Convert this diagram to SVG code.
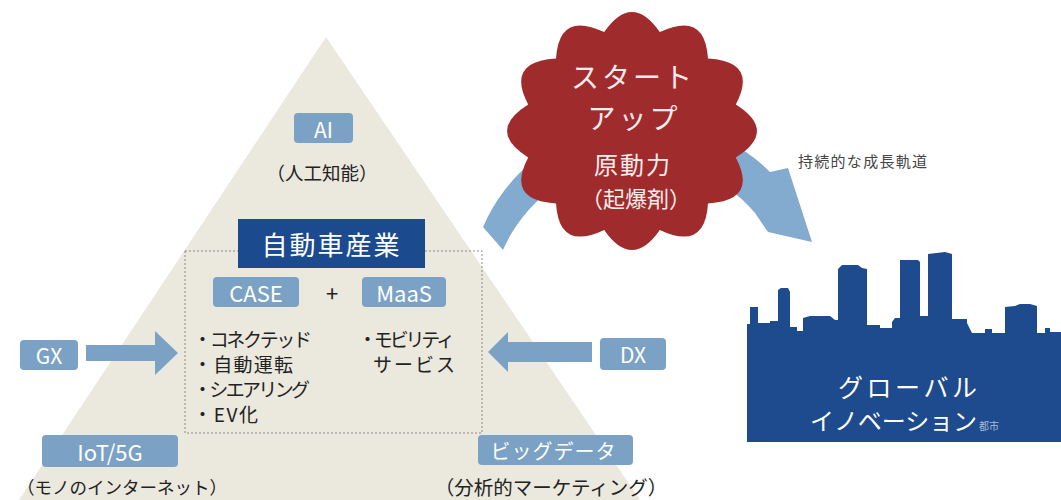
<svg xmlns="http://www.w3.org/2000/svg" width="1061" height="500" viewBox="0 0 1061 500">
  <style>
    text { font-family: "Noto Sans CJK JP", "Noto Sans", sans-serif; dominant-baseline: central; }
    .tag { fill: #7ba2c4; }
    .tagtxt { fill: #ffffff; text-anchor: middle; }
    .dark { fill: #222222; }
    .mid { text-anchor: middle; }
    .flow { fill: #7ba2c4; }
    .burst-txt { fill: #f7ecec; text-anchor: middle; }
  </style>

  <rect width="1061" height="500" fill="#ffffff"/>

  <!-- pyramid background -->
  <g id="pyramid">
    <polygon points="326,37 640,500 19,500" fill="#ebe8de"/>
    <rect x="185" y="251" width="297" height="182" fill="none" stroke="#8a8a8a" stroke-width="1" stroke-dasharray="2 2"/>
  </g>

  <!-- connectors -->
  <g id="connectors">
    <polygon id="arrow-gx" class="flow" points="86,345 155,345 155,331 178,353 155,375 155,361 86,361"/>
    <polygon id="arrow-dx" class="flow" points="592,342 508,342 508,332 488,352 508,372 508,362 592,362"/>
    <path id="arrow-growth" fill="#82abcf"
          d="M483,227 A177,177 0 0 1 770,172 L788,168 L812,242 L768,232 L755,213 A150,150 0 0 0 503,250 Z"/>
  </g>

  <g id="node-ai">
    <rect class="tag" x="294" y="113" width="59" height="30" rx="4"/>
    <text class="tagtxt" x="323.5" y="128.5" font-size="21">AI</text>
    <text class="dark mid" x="322" y="172" font-size="18.5">（人工知能）</text>
  </g>

  <g id="node-auto">
    <rect x="238" y="219" width="187" height="49" fill="#1b4b8e"/>
    <text class="tagtxt" x="331.5" y="243.5" font-size="26" letter-spacing="2">自動車産業</text>
  </g>

  <g id="node-case">
    <rect class="tag" x="213" y="277" width="86" height="30" rx="4"/>
    <text class="tagtxt" x="256" y="292" font-size="22">CASE</text>
    <text class="dark" x="193" y="338" font-size="19" textLength="119">・コネクテッド</text>
    <text class="dark" x="193" y="363" font-size="19" textLength="100">・自動運転</text>
    <text class="dark" x="193" y="388" font-size="19" textLength="117">・シエアリング</text>
    <text class="dark" x="193" y="413" font-size="19" textLength="65">・EV化</text>
  </g>

  <g id="node-plus">
    <text class="dark mid" x="332" y="292" font-size="22">+</text>
  </g>

  <g id="node-maas">
    <rect class="tag" x="362" y="277" width="84" height="30" rx="4"/>
    <text class="tagtxt" x="404" y="292" font-size="22">MaaS</text>
    <text class="dark" x="358" y="338" font-size="19" textLength="97">・モビリティ</text>
    <text class="dark" x="373" y="363" font-size="19" textLength="82">サービス</text>
  </g>

  <g id="node-gx">
    <rect class="tag" x="20" y="340" width="58" height="30" rx="4"/>
    <text class="tagtxt" x="49" y="355" font-size="21">GX</text>
  </g>

  <g id="node-dx">
    <rect class="tag" x="600" y="338" width="66" height="32" rx="4"/>
    <text class="tagtxt" x="633" y="354" font-size="21">DX</text>
  </g>

  <g id="node-iot">
    <rect class="tag" x="42" y="435" width="136" height="32" rx="4"/>
    <text class="tagtxt" x="110" y="451" font-size="22">IoT/5G</text>
    <text class="dark mid" x="122" y="486" font-size="17.5">（モノのインターネット）</text>
  </g>

  <g id="node-bigdata">
    <rect class="tag" x="478" y="435" width="155" height="30" rx="4"/>
    <text class="tagtxt" x="553" y="450" font-size="20" textLength="125">ビッグデータ</text>
    <text class="dark mid" x="551" y="486" font-size="19.5">（分析的マーケティング）</text>
  </g>

  <!-- starburst badge -->
  <g id="node-startup">
    <path fill="#a02b2c"
          d="M735.8,104.5 Q778.1,131 735.8,157.5 Q758.5,200.6 708,203.4 Q705.1,251.5 659.8,229.9 Q632,270.1 604.2,229.9 Q558.9,251.5 556,203.4 Q505.5,200.6 528.2,157.5 Q485.9,131 528.2,104.5 Q505.5,61.4 556,58.6 Q558.9,10.5 604.2,32.1 Q632,-8.1 659.8,32.1 Q705.1,10.5 708,58.6 Q758.5,61.4 735.8,104.5 Z"/>
    <text class="burst-txt" x="633" y="76" font-size="28" letter-spacing="3">スタート</text>
    <text class="burst-txt" x="634" y="117" font-size="28" letter-spacing="3">アップ</text>
    <text class="burst-txt" x="633" y="163" font-size="24" letter-spacing="2">原動力</text>
    <text class="burst-txt" x="636" y="197" font-size="22">（起爆剤）</text>
  </g>

  <g id="label-growth">
    <text x="798" y="160" font-size="15" fill="#444444" textLength="129">持続的な成長軌道</text>
  </g>

  <!-- city skyline -->
  <g id="node-city">
    <polygon fill="#1d4b8d" points="747,442 747,324 750,324 750,307 758,307 758,323 770,323 770,321 778,321 778,290 781,288 788,288 790,292 790,327 797,327 797,331 803,331 803,318 810,316 830,316 835,320 838,320 838,269 842,265 858,265 862,268 867,269 867,325 880,325 880,328 892,328 892,322 895,318 900,318 900,260 918,260 920,262 920,316 928,316 928,254 945,252 952,254 952,319 967,319 967,323 972,333 985,333 985,329 992,329 992,333 1005,333 1005,307 1015,306 1020,304 1030,304 1037,306 1037,333 1045,333 1045,328 1050,328 1050,332 1061,332 1061,442"/>
    <text x="838" y="386" font-size="25" fill="#ffffff" textLength="139">グローバル</text>
    <text x="810" y="419" font-size="24" fill="#ffffff" textLength="167">イノベーション</text>
    <text x="979" y="425" font-size="10" fill="#a9bcd4">都市</text>
  </g>
</svg>
